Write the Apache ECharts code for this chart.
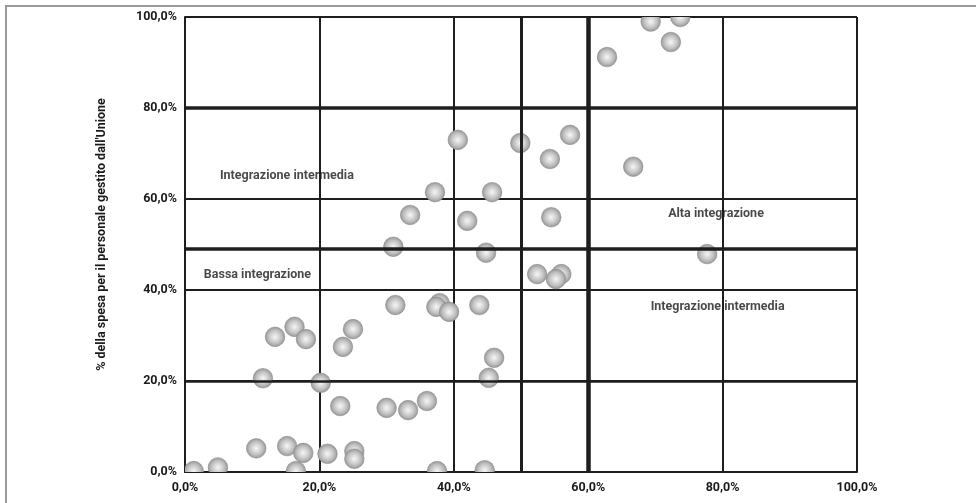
<!DOCTYPE html>
<html>
<head>
<meta charset="utf-8">
<script src="https://cdn.jsdelivr.net/npm/echarts@6/dist/echarts.min.js"></script>
<style>
html,body{margin:0;padding:0;background:#fff;}
#chart{width:976px;height:503px;}
</style>
</head>
<body>
<div id="chart"></div>
<script>
// x: % integration, y: % della spesa per il personale gestito dall'Unione
const xValues = [62.8, 69.3, 73.7, 72.3, 40.6, 49.9, 57.3, 54.3, 66.7, 37.2, 45.7, 33.5, 42.0, 54.5, 31.0, 44.8, 77.7,
  52.4, 56.0, 55.2, 31.3, 37.9, 37.4, 39.3, 43.8, 25.0, 23.5, 46.0, 45.2, 20.2, 23.1, 30.0, 33.2, 36.0,
  21.2, 25.2, 25.2, 37.5, 44.6, 13.4, 16.3, 18.0, 11.6, 10.6, 15.2, 17.6, 16.5, 1.3, 4.9];
const yValues = [91.2, 99.0, 100.0, 94.5, 73.0, 72.3, 74.1, 68.8, 67.1, 61.5, 61.5, 56.5, 55.2, 56.0, 49.5, 48.2, 47.9,
  43.5, 43.5, 42.4, 36.7, 37.1, 36.3, 35.2, 36.7, 31.4, 27.5, 25.1, 20.7, 19.6, 14.5, 14.1, 13.6, 15.6,
  4.0, 4.6, 2.9, 0.2, 0.4, 29.7, 31.9, 29.2, 20.6, 5.2, 5.7, 4.2, 0.2, 0.2, 1.0];
const tickValues = [0, 20, 40, 60, 80, 100];
const annotationTexts = ['Integrazione intermedia', 'Bassa integrazione', 'Alta integrazione', 'Integrazione intermedia'];
const annotationX = [5.2, 2.8, 71.9, 69.3];
const annotationY = [65.1, 43.3, 56.7, 36.3];
const thickXLines = [50, 60];
const thickYLines = [20, 49, 80];
const yAxisTitle = "% della spesa per il personale gestito dall'Unione";

const points = xValues.map((x, i) => [x, yValues[i]]);
const annotations = annotationTexts.map((t, i) => ({ value: [annotationX[i], annotationY[i]], name: t }));
const fmt = v => v.toFixed(1).replace('.', ',') + '%';
const FONT = 'Roboto, "Liberation Sans", sans-serif';
const lineColor = '#1e1e1e';
const R = 9.8;

const sphereFill = new echarts.graphic.RadialGradient(0.5, 0.5, 0.5, [
  { offset: 0, color: '#f6f6f6' },
  { offset: 0.3, color: '#dedede' },
  { offset: 0.65, color: '#c0c0c0' },
  { offset: 0.88, color: '#a4a4a4' },
  { offset: 1, color: '#8a8a8a' }
]);

const chart = echarts.init(document.getElementById('chart'), null, { renderer: 'canvas' });
chart.setOption({
  animation: false,
  backgroundColor: '#fff',
  graphic: [{
    type: 'rect', shape: { x: 6, y: 6, width: 1000, height: 600 },
    style: { fill: 'none', stroke: '#9a9a9a', lineWidth: 2 }, silent: true
  }],
  grid: { left: 185, right: 119, top: 17, bottom: 31 },
  xAxis: {
    type: 'value', min: 0, max: 100, interval: 20,
    axisLine: { show: true, lineStyle: { color: lineColor, width: 2 } },
    axisTick: { show: false },
    axisLabel: { formatter: fmt, color: '#1a1a1a', fontFamily: FONT, fontWeight: 'bold', fontSize: 12.5, margin: 9 },
    splitLine: { show: true, lineStyle: { color: lineColor, width: 2, type: 'solid' } }
  },
  yAxis: {
    type: 'value', min: 0, max: 100, interval: 20,
    name: yAxisTitle, nameLocation: 'middle', nameGap: 77,
    nameTextStyle: { color: '#1a1a1a', fontFamily: FONT, fontWeight: 'bold', fontSize: 12.5, padding: [0, 0, 0, 20] },
    axisLine: { show: true, lineStyle: { color: lineColor, width: 2 } },
    axisTick: { show: false },
    axisLabel: { formatter: fmt, color: '#1a1a1a', fontFamily: FONT, fontWeight: 'bold', fontSize: 12.5, margin: 8 },
    splitLine: { show: true, lineStyle: { color: lineColor, width: 2, type: 'solid' } }
  },
  series: [
    {
      type: 'scatter',
      data: [],
      silent: true,
      markLine: {
        silent: true, symbol: 'none', label: { show: false },
        data: thickXLines.map(v => ({ xAxis: v, lineStyle: { color: lineColor, width: v === 60 ? 4.5 : 3, type: 'solid' } }))
          .concat(thickYLines.map(v => ({ yAxis: v, lineStyle: { color: lineColor, width: v === 20 ? 2.5 : 3.5, type: 'solid' } })))
      },
      z: 1
    },
    {
      type: 'custom',
      data: points,
      clip: true,
      silent: true,
      renderItem: (params, api) => {
        const p = api.coord([api.value(0), api.value(1)]);
        return {
          type: 'circle',
          shape: { cx: p[0], cy: p[1], r: R },
          style: { fill: sphereFill, stroke: '#8f8f8f', lineWidth: 0.6 }
        };
      },
      z: 3
    },
    {
      type: 'scatter',
      data: annotations,
      symbolSize: 0,
      silent: true,
      label: {
        show: true, position: 'right', distance: 0,
        formatter: p => p.name,
        color: '#1a1a1a', fontFamily: FONT, fontWeight: 'bold', fontSize: 12.5
      },
      z: 4
    }
  ]
});
</script>
</body>
</html>
